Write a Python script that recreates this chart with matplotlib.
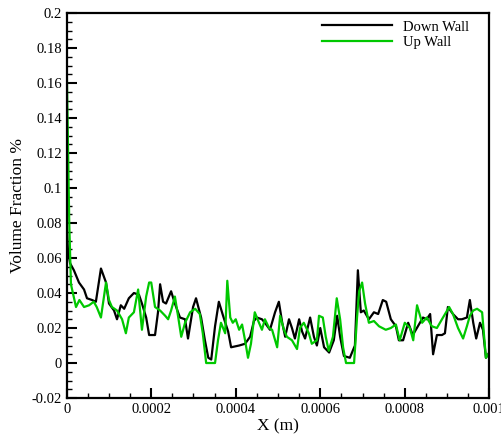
import numpy as np
import matplotlib
matplotlib.use("Agg")
import matplotlib.pyplot as plt
from matplotlib.ticker import MultipleLocator, FuncFormatter

# x positions in micrometres, volume fraction values
down_x_um = [0, 3, 8, 17, 29, 41, 48, 60, 69, 81, 93, 100, 112, 119, 128, 136, 147, 159, 171, 178,
             188, 195, 200, 209, 216, 221, 228, 235, 247, 256, 268, 280, 287, 299, 306, 318, 327, 335, 342, 351,
             360, 370, 382, 389, 408, 422, 434, 443, 450, 462, 469, 481, 493, 502, 510, 517, 526, 533, 540, 550,
             557, 564, 576, 585, 592, 600, 609, 621, 632, 640, 647, 656, 670, 682, 689, 696, 703, 715, 727, 737,
             748, 756, 767, 779, 786, 796, 808, 819, 831, 843, 852, 860, 867, 876, 888, 895, 902, 914, 926, 935,
             947, 954, 962, 969, 978, 985, 992, 1000]
down_v = [0.080, 0.064, 0.057, 0.053, 0.046, 0.042, 0.037, 0.036, 0.035, 0.054, 0.046, 0.034, 0.030, 0.025, 0.033, 0.031, 0.037, 0.040, 0.039, 0.034,
          0.026, 0.016, 0.016, 0.016, 0.029, 0.045, 0.035, 0.034, 0.041, 0.034, 0.026, 0.025, 0.014, 0.032, 0.037, 0.026, 0.013, 0.003, 0.002, 0.021,
          0.035, 0.027, 0.018, 0.009, 0.010, 0.011, 0.015, 0.024, 0.026, 0.025, 0.023, 0.019, 0.029, 0.035, 0.023, 0.015, 0.025, 0.020, 0.014, 0.025,
          0.018, 0.014, 0.026, 0.015, 0.010, 0.020, 0.009, 0.006, 0.013, 0.027, 0.015, 0.004, 0.003, 0.010, 0.053, 0.029, 0.030, 0.025, 0.029, 0.028,
          0.036, 0.035, 0.025, 0.021, 0.013, 0.013, 0.023, 0.016, 0.021, 0.026, 0.025, 0.028, 0.005, 0.016, 0.016, 0.017, 0.032, 0.028, 0.025, 0.025,
          0.026, 0.036, 0.023, 0.014, 0.023, 0.019, 0.003, 0.006]

up_x_um = [0, 3, 6, 10, 22, 30, 41, 53, 64, 71, 81, 93, 100, 107, 119, 131, 140, 147, 159, 169,
           178, 188, 195, 200, 209, 221, 233, 240, 247, 256, 264, 271, 280, 292, 304, 315, 322, 330, 342, 351,
           358, 365, 375, 380, 387, 393, 400, 408, 415, 422, 429, 436, 445, 455, 462, 469, 479, 486, 498, 505,
           514, 521, 533, 545, 552, 561, 573, 580, 592, 597, 606, 613, 620, 630, 639, 647, 654, 661, 672, 680,
           687, 692, 699, 706, 715, 727, 739, 755, 767, 779, 786, 788, 800, 812, 820, 829, 841, 852, 864, 876,
           888, 905, 914, 926, 938, 947, 954, 962, 971, 983, 992, 1000]
up_v = [0.170, 0.125, 0.080, 0.045, 0.032, 0.036, 0.032, 0.033, 0.035, 0.032, 0.026, 0.046, 0.036, 0.032, 0.030, 0.025, 0.017, 0.026, 0.029, 0.042,
        0.019, 0.038, 0.046, 0.046, 0.032, 0.030, 0.027, 0.025, 0.030, 0.038, 0.026, 0.015, 0.023, 0.029, 0.031, 0.028, 0.017, 0.000, 0.000, 0.000,
        0.013, 0.023, 0.017, 0.047, 0.026, 0.023, 0.025, 0.019, 0.022, 0.013, 0.003, 0.011, 0.029, 0.023, 0.019, 0.025, 0.020, 0.019, 0.009, 0.027,
        0.019, 0.015, 0.013, 0.008, 0.020, 0.023, 0.017, 0.011, 0.013, 0.027, 0.026, 0.015, 0.007, 0.015, 0.037, 0.025, 0.009, 0.000, 0.000, 0.000,
        0.026, 0.041, 0.046, 0.034, 0.023, 0.024, 0.021, 0.019, 0.020, 0.022, 0.015, 0.013, 0.023, 0.020, 0.013, 0.033, 0.023, 0.026, 0.021, 0.020,
        0.025, 0.032, 0.028, 0.020, 0.014, 0.021, 0.027, 0.030, 0.031, 0.029, 0.003, 0.006]

down_x = np.array(down_x_um) * 1e-6
up_x = np.array(up_x_um) * 1e-6

plt.rcParams['font.family'] = ['Liberation Serif', 'DejaVu Serif']

fig = plt.figure(figsize=(5.02, 4.34), dpi=100)
ax = fig.add_axes([0.1329, 0.0829, 0.8418, 0.8871])

ax.plot(down_x, down_v, color='black', lw=1.6, label='Down Wall')
ax.plot(up_x, up_v, color='#00C800', lw=1.6, label='Up Wall')

ax.set_xlim(0, 0.001)
ax.set_ylim(-0.02, 0.2)
ax.xaxis.set_major_locator(MultipleLocator(0.0002))
ax.xaxis.set_minor_locator(MultipleLocator(0.00005))
ax.yaxis.set_major_locator(MultipleLocator(0.02))
ax.yaxis.set_minor_locator(MultipleLocator(0.005))
fmt = FuncFormatter(lambda v, p: '%g' % round(v, 6))
ax.xaxis.set_major_formatter(fmt)
ax.yaxis.set_major_formatter(fmt)

ax.tick_params(which='both', direction='in', top=False, right=False, labelsize=10.5)
ax.tick_params(which='major', length=7, width=1.5)
ax.tick_params(which='minor', length=3.5, width=1)
for s in ax.spines.values():
    s.set_linewidth(1.6)

ax.set_xlabel('X (m)', fontsize=12.5, labelpad=2)
ax.set_ylabel('Volume Fraction %', fontsize=12.5, labelpad=4)

ax.legend(loc='upper right', bbox_to_anchor=(0.97, 1.0), frameon=False, fontsize=10.5,
          handlelength=4.8, handletextpad=0.8, labelspacing=0.15, borderaxespad=0.1)

fig.savefig('out.png', dpi=100)
